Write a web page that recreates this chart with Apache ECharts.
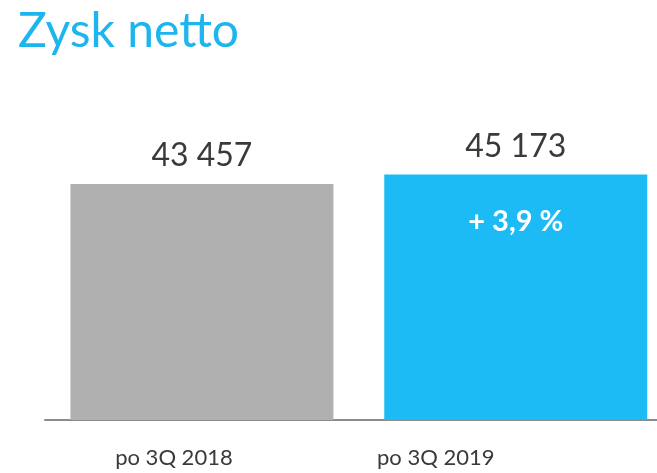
<!DOCTYPE html>
<html>
<head>
<meta charset="utf-8">
<script src="https://cdn.jsdelivr.net/npm/echarts@6/dist/echarts.min.js"></script>
<style>
  html, body { margin: 0; padding: 0; background: #fff; }
  #chart { width: 657px; height: 473px; }
</style>
</head>
<body>
<div id="chart"></div>
<script>
const categories = ['po 3Q 2018', 'po 3Q 2019']
const values = [43457, 45173]
const changeLabels = ['', '+ 3,9 %']
const barColors = ['#b0b0b0', '#1cbbf6']

const myChart = echarts.init(document.getElementById('chart'), null, { renderer: 'canvas' })

const fmt = v => String(v).replace(/\B(?=(\d{3})+(?!\d))/g, ' ')

const option = {
  animation: false,
  title: {
    text: 'Zysk netto',
    left: 13,
    top: 3,
    textStyle: { fontFamily: 'Lato', fontSize: 48, fontWeight: 'normal', color: '#1db5ee' },
  },
  grid: { left: 45, right: 0, top: 94, bottom: 53 },
  // oś wartości zamiast kategorii, żeby drugi słupek mógł wyjść blisko prawej krawędzi
  xAxis: {
    type: 'value',
    min: -0.5,
    max: 1.45,
    splitLine: { show: false },
    axisTick: { show: false },
    axisLine: { show: true, onZero: false, lineStyle: { color: '#8c8c8c', width: 2 } },
    axisLabel: {
      margin: 27,
      customValues: [0, 1],
      formatter: v => (v === 0 ? '{a|' + categories[0] + '}' : '{b|' + categories[1] + '}'),
      rich: {
        a: { fontFamily: 'Lato', fontSize: 22, color: '#3a3a3a', padding: [0, 56, 0, 0] },
        b: { fontFamily: 'Lato', fontSize: 22, color: '#3a3a3a', padding: [0, 160, 0, 0] },
      },
    },
  },
  yAxis: {
    type: 'value',
    min: 0,
    max: 60000,
    show: false,
    splitLine: { show: false },
  },
  series: [
    {
      type: 'bar',
      barWidth: 263,
      data: values.map((v, i) => ({ value: [i, v], itemStyle: { color: barColors[i] } })),
      label: {
        show: true,
        position: 'top',
        distance: 12,
        formatter: p => fmt(p.value[1]),
        fontFamily: 'Lato',
        fontSize: 32,
        color: '#3a3a3a',
      },
    },
    {
      type: 'bar',
      barWidth: 263,
      barGap: '-100%',
      silent: true,
      itemStyle: { color: 'transparent' },
      data: values.map((v, i) => (changeLabels[i] ? [i, v] : [i, null])),
      label: {
        show: true,
        position: 'insideTop',
        distance: 33,
        formatter: p => changeLabels[p.dataIndex],
        fontFamily: 'Lato',
        fontSize: 29,
        fontWeight: 'bold',
        color: '#ffffff',
      },
    },
  ],
}

myChart.setOption(option)
</script>
</body>
</html>
